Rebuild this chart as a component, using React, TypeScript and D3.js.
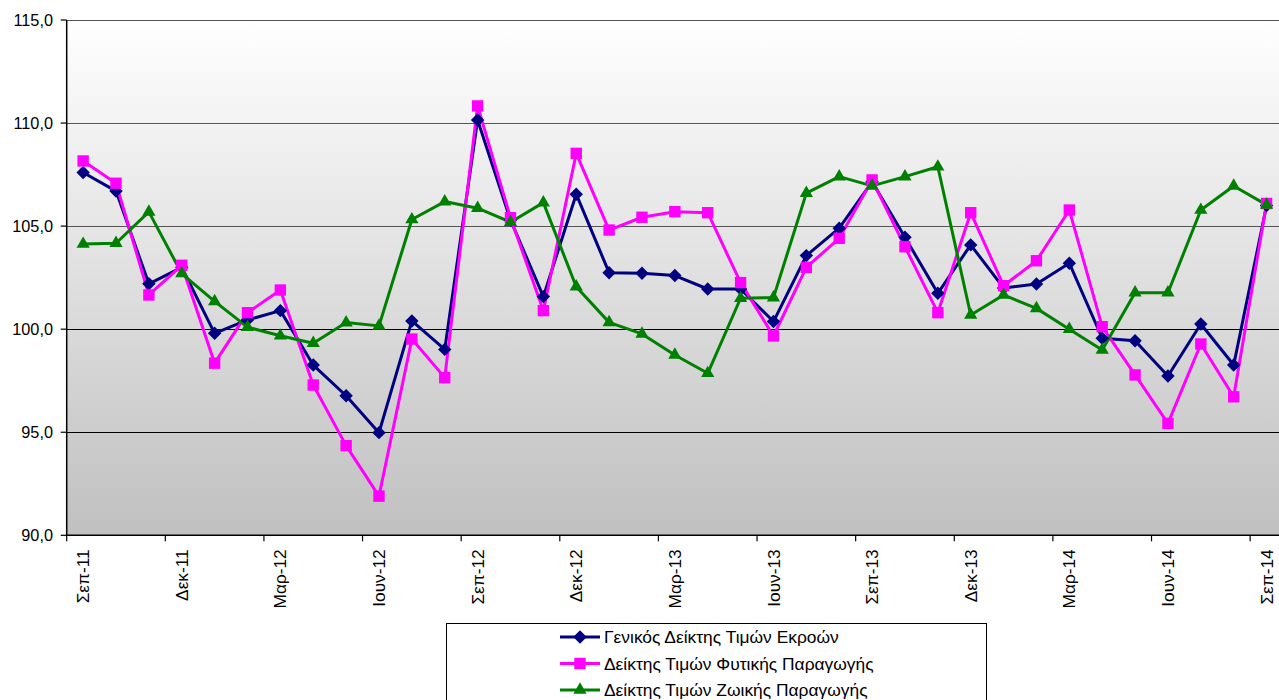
import React from "react";
import * as d3 from "d3";

// months Sep-11 .. Sep-14
const months = [
  "Σεπ-11", "Οκτ-11", "Νοε-11", "Δεκ-11", "Ιαν-12", "Φεβ-12", "Μαρ-12", "Απρ-12", "Μαϊ-12", "Ιουν-12",
  "Ιουλ-12", "Αυγ-12", "Σεπ-12", "Οκτ-12", "Νοε-12", "Δεκ-12", "Ιαν-13", "Φεβ-13", "Μαρ-13", "Απρ-13",
  "Μαϊ-13", "Ιουν-13", "Ιουλ-13", "Αυγ-13", "Σεπ-13", "Οκτ-13", "Νοε-13", "Δεκ-13", "Ιαν-14", "Φεβ-14",
  "Μαρ-14", "Απρ-14", "Μαϊ-14", "Ιουν-14", "Ιουλ-14", "Αυγ-14", "Σεπ-14",
];

const generalIndex = [
  107.6, 106.7, 102.2, 103.0, 99.8, 100.45, 100.9, 98.26, 96.77, 94.98,
  100.4, 99.02, 110.15, 105.3, 101.58, 106.55, 102.74, 102.71, 102.6, 101.95,
  101.95, 100.37, 103.57, 104.9, 107.15, 104.46, 101.74, 104.09, 102.0, 102.19,
  103.2, 99.56, 99.44, 97.73, 100.25, 98.26, 106.0,
];

const cropIndex = [
  108.16, 107.08, 101.66, 103.1, 98.35, 100.8, 101.9, 97.29, 94.35, 91.9,
  99.52, 97.65, 110.83, 105.41, 100.9, 108.53, 104.81, 105.43, 105.7, 105.65,
  102.26, 99.67, 103.0, 104.41, 107.24, 104.0, 100.8, 105.65, 102.11, 103.32,
  105.78, 100.12, 97.78, 95.43, 99.28, 96.72, 106.1,
];

const animalIndex = [
  104.13, 104.17, 105.69, 102.7, 101.35, 100.1, 99.68, 99.32, 100.32, 100.16,
  105.32, 106.19, 105.87, 105.19, 106.14, 102.06, 100.33, 99.77, 98.75, 97.86,
  101.5, 101.53, 106.6, 107.4, 106.95, 107.4, 107.88, 100.69, 101.66, 101.01,
  100.0, 98.99, 101.77, 101.77, 105.78, 106.95, 106.03,
];

const yTicks = [90, 95, 100, 105, 110, 115];

const seriesNames = [
  "Γενικός Δείκτης Τιμών Εκροών",
  "Δείκτης Τιμών Φυτικής Παραγωγής",
  "Δείκτης Τιμών Ζωικής Παραγωγής",
];

const W = 1279;
const H = 700;
const FONT = "'Liberation Sans', Arial, sans-serif";

const series = [
  { name: seriesNames[0], values: generalIndex, color: "#000080", marker: "diamond" },
  { name: seriesNames[1], values: cropIndex, color: "#FF00FF", marker: "square" },
  { name: seriesNames[2], values: animalIndex, color: "#008000", marker: "triangle" },
];

const symbolFor = (m: string) =>
  m === "diamond"
    ? d3.symbol().type(d3.symbolDiamond2).size(115)
    : m === "square"
    ? d3.symbol().type(d3.symbolSquare2).size(165)
    : d3.symbol().type(d3.symbolTriangle2).size(125);

const Marker = ({ m, x, y, color }: { m: string; x: number; y: number; color: string }) => {
  const s = symbolFor(m);
  return <path d={s() || ""} transform={`translate(${x},${y})`} fill={color} />;
};

export default function App() {
  const left = 66.7;
  const right = 1283;
  const top = 20;
  const bottom = 535.3;

  const x = d3.scaleBand<string>().domain(months).range([left, right]).padding(0);
  const y = d3.scaleLinear().domain([90, 115]).range([bottom, top]);
  const cx = (m: string) => (x(m) as number) + x.bandwidth() / 2;

  const line = d3
    .line<number>()
    .x((_, i) => cx(months[i]))
    .y((d) => y(d));

  const tickMonths = months.filter((_, i) => i % 3 === 0);

  const legendX = 446;
  const legendY = 623;
  const legendRows = [637, 663.5, 690];

  return (
    <svg
      width={W}
      height={H}
      style={{ position: "absolute", left: 0, top: 0, background: "#fff" }}
      fontFamily={FONT}
    >
      <defs>
        <linearGradient id="plotBg" x1="0" y1="0" x2="0" y2="1">
          <stop offset="0%" stopColor="#ffffff" />
          <stop offset="100%" stopColor="#c0c0c0" />
        </linearGradient>
      </defs>

      <rect x={left} y={top} width={right - left} height={bottom - top} fill="url(#plotBg)" />

      {/* gridlines */}
      {yTicks.slice(1).map((t) => (
        <line
          key={t}
          x1={left}
          x2={right}
          y1={Math.round(y(t)) + 0.5}
          y2={Math.round(y(t)) + 0.5}
          stroke={t >= 105 ? "#555" : "#000"}
          strokeWidth={1}
        />
      ))}

      {/* axes */}
      <line x1={left} x2={left} y1={top} y2={bottom} stroke="#000" strokeWidth={1.5} />
      <line x1={left} x2={right} y1={bottom} y2={bottom} stroke="#000" strokeWidth={1.5} />

      {yTicks.map((t) => (
        <g key={t}>
          <line x1={left - 6} x2={left} y1={y(t)} y2={y(t)} stroke="#000" strokeWidth={1.2} />
          <text x={53} y={y(t)} dy="0.35em" textAnchor="end" fontSize={16.3} fill="#000">
            {t.toFixed(1).replace(".", ",")}
          </text>
        </g>
      ))}

      {tickMonths.map((m) => (
        <g key={m}>
          <line
            x1={x(m) as number}
            x2={x(m) as number}
            y1={bottom}
            y2={bottom + 6}
            stroke="#000"
            strokeWidth={1.2}
          />
          <text
            transform={`translate(${cx(m)},${bottom + 14}) rotate(-90)`}
            textAnchor="end"
            dy="0.35em"
            fontSize={17.3}
            fill="#000"
          >
            {m}
          </text>
        </g>
      ))}

      {/* lines */}
      {series.map((s) => (
        <path key={s.name} d={line(s.values) || ""} fill="none" stroke={s.color} strokeWidth={3} strokeLinejoin="round" />
      ))}
      {/* markers */}
      {series.map((s) => (
        <g key={s.name + "-m"}>
          {s.values.map((v, i) => (
            <Marker key={i} m={s.marker} x={cx(months[i])} y={y(v)} color={s.color} />
          ))}
        </g>
      ))}

      {/* legend */}
      <rect x={legendX + 0.5} y={legendY + 0.5} width={540} height={90} fill="#fff" stroke="#000" strokeWidth={1} />
      {series.map((s, i) => (
        <g key={s.name + "-l"}>
          <line x1={560} x2={600} y1={legendRows[i]} y2={legendRows[i]} stroke={s.color} strokeWidth={3} />
          <Marker m={s.marker} x={580} y={legendRows[i]} color={s.color} />
          <text x={604} y={legendRows[i]} dy="0.35em" fontSize={17.4} fill="#000">
            {s.name}
          </text>
        </g>
      ))}
    </svg>
  );
}
